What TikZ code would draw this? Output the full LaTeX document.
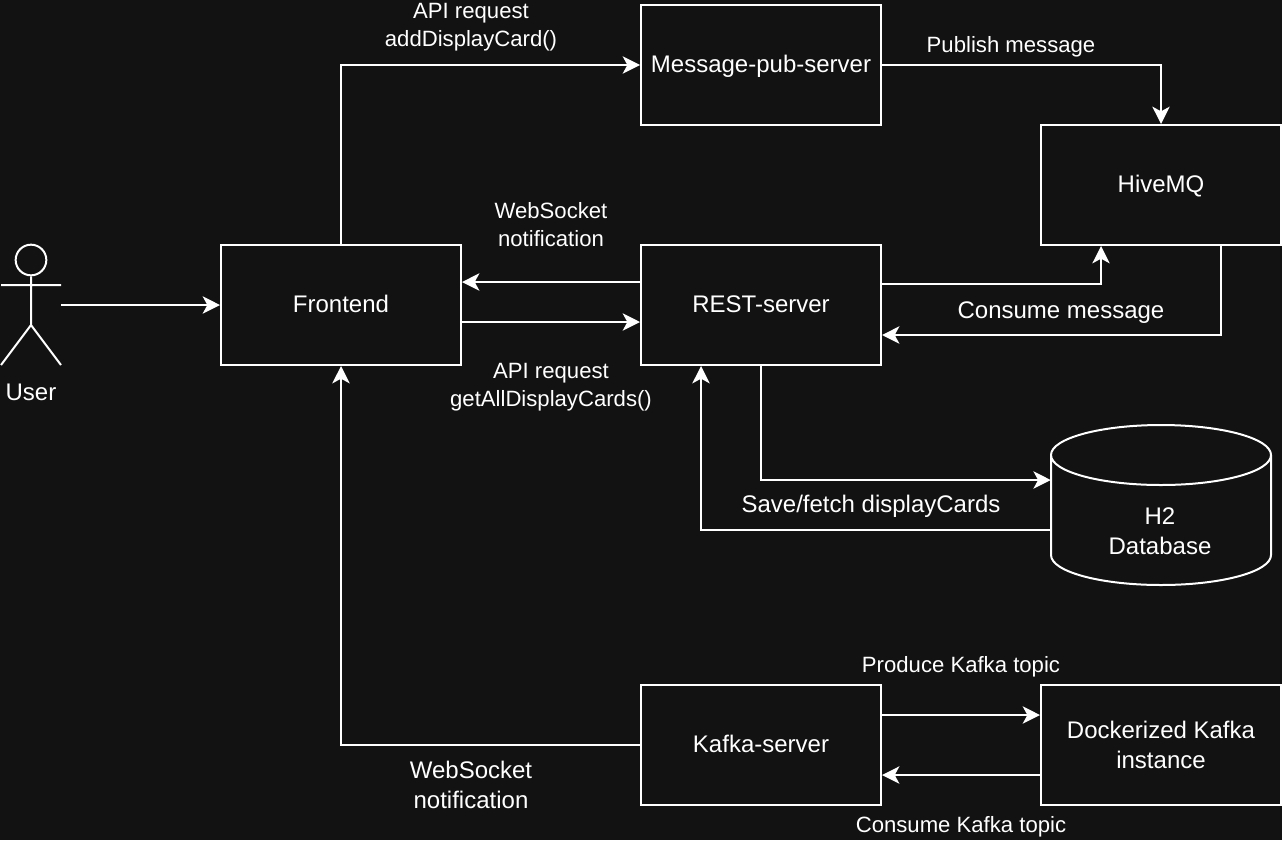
\documentclass[tikz,border=0pt]{standalone}
\usepackage{fontspec}
\setmainfont{Liberation Sans}
\usetikzlibrary{arrows.meta,positioning}
\definecolor{canvas}{HTML}{121212}
\tikzset{
    x=1pt,y=-1pt,
    boxnode/.style={draw=white,line width=1.5pt,minimum width=180pt,minimum height=90pt,inner sep=0pt,align=center,text=white,font=\fontsize{18}{22.5}\selectfont},
    oneline/.style={boxnode,text height=13.5pt,text depth=3pt},
    conn/.style={draw=white,line width=1.5pt,-{Stealth[length=13pt,width=13pt,inset=3.5pt]}},
    lbl/.style={text=white,align=center,inner sep=0pt,font=\fontsize{16.6}{21}\selectfont},
    biglbl/.style={text=white,align=center,inner sep=0pt,font=\fontsize{18}{22.5}\selectfont},
}
\begin{document}
\begin{tikzpicture}[scale=0.75]
    %% Background
    \fill[canvas] (0,0) rectangle (1282,840);
    \useasboundingbox (0,0) rectangle (1282,840);
    %% Boxes
    \node[oneline] (msgpub)   at (761,65)   {Message-pub-server};
    \node[oneline] (hivemq)   at (1161,185) {HiveMQ};
    \node[oneline] (frontend) at (341,305)  {Frontend};
    \node[oneline] (rest)     at (761,305)  {REST-server};
    \node[oneline] (kafkasrv) at (761,745)  {Kafka-server};
    \node[boxnode] (kafkainst)at (1161,745) {Dockerized Kafka\\instance};
    %% Database
    \node[biglbl,minimum width=165pt,minimum height=120pt] (db) at (1161,505) {};
    \draw[white,line width=1.5pt] (1051,455) arc [start angle=180,end angle=-180,x radius=110,y radius=30]
        (1051,455) -- (1051,555) arc [start angle=180,end angle=0,x radius=110,y radius=30] -- (1271,455);
    \node[biglbl] (dblabel) at (1160,531) {H2\\Database};
    %% User
    \node[draw=white,line width=1.5pt,circle,minimum size=23pt,inner sep=0pt] (head) at (31,260) {};
    \coordinate (hip) at (31,325);
    \coordinate (armL) at (1,285);
    \coordinate (armR) at (61,285);
    \draw[white,line width=1.5pt] (head.south) -- (hip) (armL) -- (armR) (hip) -- (1,365) (hip) -- (61,365);
    \node[biglbl] (user) at (31,392) {User};
    %% Connectors
    \coordinate (userout) at (61,305);
    \draw[conn] (userout) -- (frontend.west);
    \draw[conn] (frontend.north) |- (msgpub.west);
    \draw[conn] (msgpub.east) -| (hivemq.north);
    \draw[conn] ([yshift=21pt]rest.east) -| ([xshift=-60pt]hivemq.south);
    \draw[conn] ([xshift=60pt]hivemq.south) |- ([yshift=-30pt]rest.east);
    \draw[conn] ([yshift=23pt]rest.west) -- ([yshift=23pt]frontend.east);
    \draw[conn] ([yshift=-17pt]frontend.east) -- ([yshift=-17pt]rest.west);
    \draw[conn] (rest.south) |- ([yshift=25pt]db.west);
    \draw[conn] ([yshift=-25pt]db.west) -| ([xshift=-60pt]rest.south);
    \draw[conn] (kafkasrv.west) -| (frontend.south);
    \draw[conn] ([yshift=30pt]kafkasrv.east) -- ([yshift=30pt]kafkainst.west);
    \draw[conn] ([yshift=-30pt]kafkainst.west) -- ([yshift=-30pt]kafkasrv.east);
    %% Labels
    \node[lbl] (l1) at (471,27) {API request\\addDisplayCard()};
    \node[lbl] (l2) at (1011,47) {Publish message};
    \node[lbl] (l3) at (551,225) {WebSocket\\notification};
    \node[lbl] (l4) at (551,387) {API request\\getAllDisplayCards()};
    \node[biglbl] (l5) at (1061,313) {Consume message};
    \node[biglbl] (l6) at (871,506) {Save/fetch displayCards};
    \node[lbl] (l7) at (961,667) {Produce Kafka topic};
    \node[lbl] (l8) at (961,827) {Consume Kafka topic};
    \node[biglbl] (l9) at (471,785) {WebSocket\\notification};
\end{tikzpicture}
\end{document}
